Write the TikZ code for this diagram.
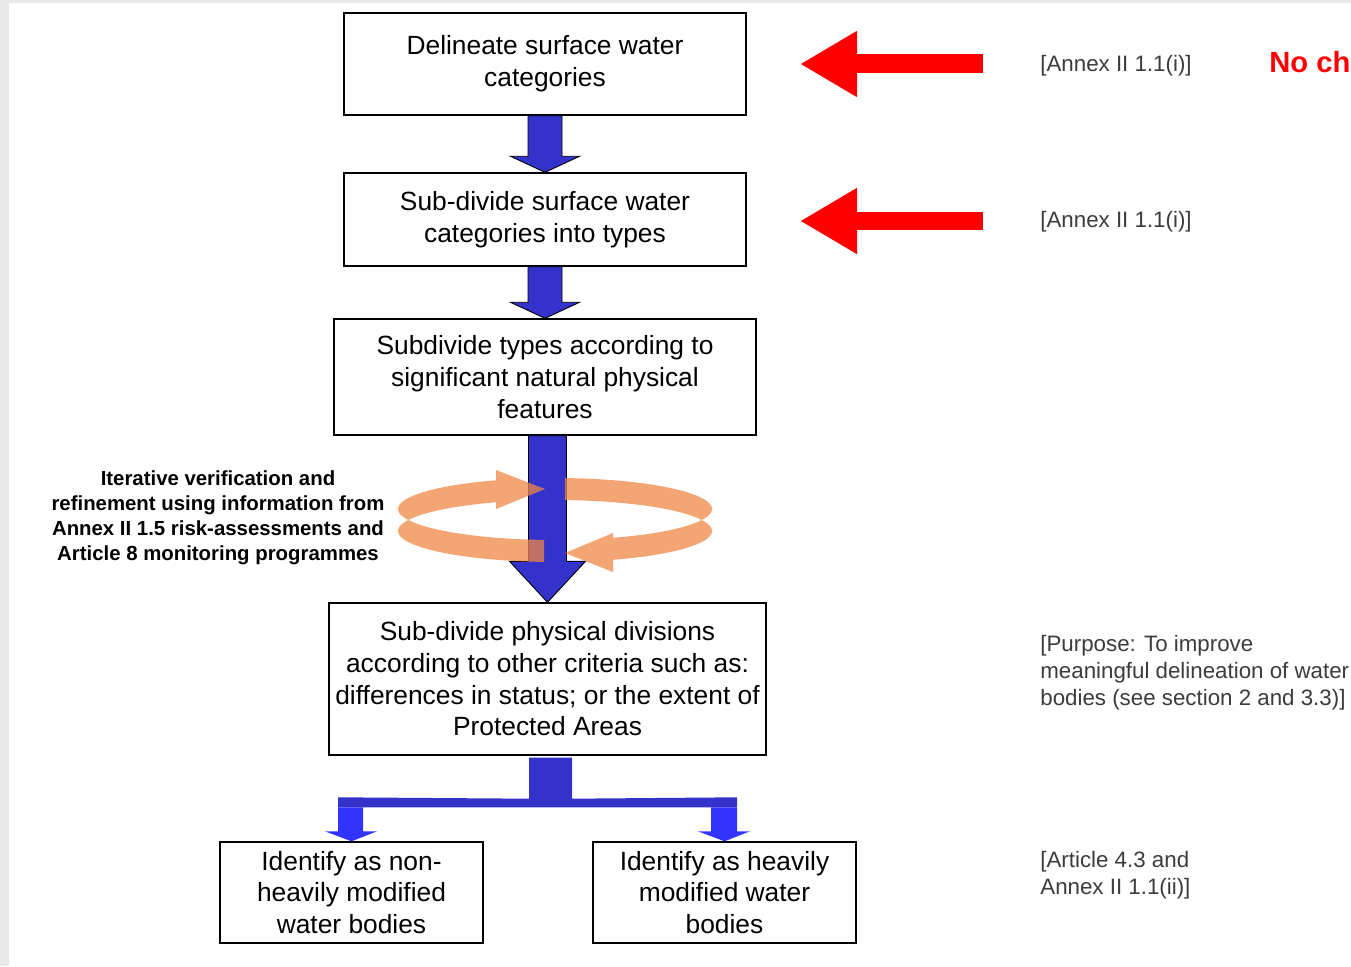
\documentclass[tikz,border=0pt]{standalone}
\usepackage{fontspec}
\setmainfont{Liberation Sans}
\usetikzlibrary{arrows.meta, positioning, calc}
\definecolor{flowblue}{RGB}{51,51,204}
\definecolor{dropblue}{RGB}{51,51,255}
\definecolor{ringorange}{RGB}{240,135,70}
\definecolor{refgray}{RGB}{60,60,60}
\definecolor{pagegray}{RGB}{232,232,232}

\begin{document}
\begin{tikzpicture}[x=0.02cm, y=-0.02cm, >=Stealth,
    box/.style={draw, line width=0.8pt, align=center, inner sep=0pt, font=\fontsize{15}{18}\selectfont},
    ref/.style={anchor=west, align=left, inner sep=0pt, text=refgray, font=\fontsize{12.7}{15.3}\selectfont},
    blockarrow/.style={fill=flowblue, draw=black, line width=0.5pt},
    redarrow/.style={draw=red, line width=0.38cm, -{Triangle[length=1.14cm, width=1.24cm]}},
    ring/.style={fill=ringorange, fill opacity=0.75}]
    \useasboundingbox (0,0) rectangle (1351,966);
    \fill[pagegray] (0,0) rectangle (1351,966);
    \fill[white] (9,3) rectangle (1351,966);

    % boxes
    \node[box, minimum width=8.04cm, minimum height=2.04cm] (b1) at (545,64) {Delineate surface water\\categories};
    \node[box, minimum width=8.04cm, minimum height=1.86cm] (b2) at (545,219.5) {Sub-divide surface water\\categories into types};
    \node[box, minimum width=8.44cm, minimum height=2.32cm] (b3) at (545,377) {Subdivide types according to\\significant natural physical\\features};
    \node[box, minimum width=8.74cm, minimum height=3.04cm] (b4) at (547.5,679) {Sub-divide physical divisions\\according to other criteria such as:\\differences in status; or the extent of\\Protected Areas};
    \node[box, minimum width=5.26cm, minimum height=2.02cm] (b5) at (351.5,892.5) {Identify as non-\\heavily modified\\water bodies};
    \node[box, minimum width=5.26cm, minimum height=2.02cm] (b6) at (724.5,892.5) {Identify as heavily\\modified water\\bodies};

    % labels
    \node[align=center, font=\bfseries\fontsize{11.6}{14.2}\selectfont] (iter) at (218,518) {Iterative verification and\\refinement using information from\\Annex II 1.5 risk-assessments and\\Article 8 monitoring programmes};
    \node[ref] (ref1) at (1040,66) {[Annex II 1.1(i)]};
    \node[ref] (ref2) at (1040,222) {[Annex II 1.1(i)]};
    \node[ref] (ref4) at (1040,673) {[Purpose: To improve\\meaningful delineation of water\\bodies (see section 2 and 3.3)]};
    \node[ref] (ref5) at (1040,875) {[Article 4.3 and\\Annex II 1.1(ii)]};
    \node[anchor=west, inner sep=0pt, text=red, font=\bfseries\fontsize{16.6}{20}\selectfont] (noch) at (1269,62) {No ch};

    % block arrows
    \filldraw[blockarrow] ($(b1.south)+(-17,0)$) -- ($(b2.north)+(-17,-16)$) -- ($(b2.north)+(-34.5,-16)$) -- (b2.north)
        -- ($(b2.north)+(34.5,-16)$) -- ($(b2.north)+(17,-16)$) -- ($(b1.south)+(17,0)$) -- cycle;
    \filldraw[blockarrow] ($(b2.south)+(-17,0)$) -- ($(b3.north)+(-17,-16)$) -- ($(b3.north)+(-34.5,-16)$) -- (b3.north)
        -- ($(b3.north)+(34.5,-16)$) -- ($(b3.north)+(17,-16)$) -- ($(b2.south)+(17,0)$) -- cycle;
    \coordinate (a3) at (b3.south -| b4.north);
    \filldraw[blockarrow] ($(a3)+(-19,0)$) -- ($(b4.north)+(-19,-41)$) -- ($(b4.north)+(-38,-41)$) -- (b4.north)
        -- ($(b4.north)+(38,-41)$) -- ($(b4.north)+(19,-41)$) -- ($(a3)+(19,0)$) -- cycle;

    % loop
    \fill[ring] plot[domain=94:248, samples=50, variable=\t] ({555+157*cos(\t)},{509+31*sin(\t)})
        -- (496,470) -- (545,489) -- (496,509)
        -- plot[domain=248:94, samples=50, variable=\t] ({555+157*cos(\t)},{531+31*sin(\t)}) -- cycle;
    \fill[ring] plot[domain=273.6:428.3, samples=50, variable=\t] ({555+157*cos(\t)},{509+31*sin(\t)})
        -- (613,533) -- (565,553) -- (613,572)
        -- plot[domain=428.3:273.6, samples=50, variable=\t] ({555+157*cos(\t)},{531+31*sin(\t)}) -- cycle;

    % split
    \fill[flowblue] ($(b4.south)+(-18.5,2)$) -- ($(b4.south)+(-18.5,43)$) -- ($(b5.north)+(-13.5,-44)$) -- ($(b5.north)+(-13.5,-34)$)
        -- ($(b6.north)+(12.5,-34)$) -- ($(b6.north)+(12.5,-44)$) -- ($(b4.south)+(24.5,43)$) -- ($(b4.south)+(24.5,2)$) -- cycle;
    \fill[dropblue] ($(b5.north)+(-13.5,-34)$) -- ($(b5.north)+(-13.5,-10)$) -- ($(b5.north)+(-26.5,-10)$) -- (b5.north)
        -- ($(b5.north)+(25.5,-10)$) -- ($(b5.north)+(11.5,-10)$) -- ($(b5.north)+(11.5,-34)$) -- cycle;
    \fill[dropblue] ($(b6.north)+(-13.5,-34)$) -- ($(b6.north)+(-13.5,-10)$) -- ($(b6.north)+(-26.5,-10)$) -- (b6.north)
        -- ($(b6.north)+(25.5,-10)$) -- ($(b6.north)+(12.5,-10)$) -- ($(b6.north)+(12.5,-34)$) -- cycle;

    % red arrows
    \coordinate (s1) at (983,64);
    \coordinate (e1) at (800,64);
    \coordinate (s2) at (983,221);
    \coordinate (e2) at (800,221);
    \draw[redarrow] (s1) -- (e1);
    \draw[redarrow] (s2) -- (e2);
\end{tikzpicture}
\end{document}
